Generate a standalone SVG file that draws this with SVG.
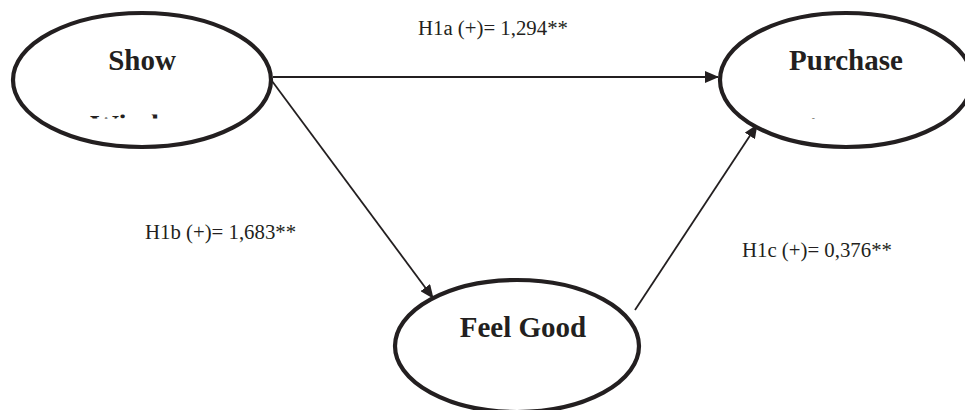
<svg xmlns="http://www.w3.org/2000/svg" width="965" height="410" viewBox="0 0 965 410">
<style>
.node{fill:#fff;stroke:#231f20;stroke-width:4.2}
.title{font-family:"Liberation Serif","Times New Roman",serif;font-weight:bold;font-size:29px;fill:#231f20;text-anchor:middle}
.lbl{font-family:"Liberation Serif","Times New Roman",serif;font-size:20.8px;fill:#231f20}
.edge{stroke:#231f20;stroke-width:1.8;fill:none}
</style>
<defs>
<marker id="ah" markerWidth="14" markerHeight="12" refX="13" refY="6" orient="auto" markerUnits="userSpaceOnUse">
<path d="M0,0 L14,6 L0,12 Z" fill="#231f20"/>
</marker>
<clipPath id="c1"><rect x="88" y="114.5" width="72" height="4"/></clipPath>
<clipPath id="c2"><rect x="806" y="114.5" width="16" height="4"/></clipPath>
</defs>
<g id="connectors">
<line class="edge" x1="273" y1="77" x2="718" y2="77" marker-end="url(#ah)"/>
<line class="edge" x1="272" y1="81" x2="433" y2="298" marker-end="url(#ah)"/>
<line class="edge" x1="635" y1="310" x2="757" y2="125" marker-end="url(#ah)"/>
</g>
<g id="node-show">
<ellipse class="node" cx="142" cy="80" rx="129" ry="67"/>
<text class="title" x="142" y="70">Show</text>
<text class="title" x="90" y="134.5" style="text-anchor:start" clip-path="url(#c1)">Window</text>
</g>
<g id="node-purchase">
<ellipse class="node" cx="846" cy="80" rx="126" ry="67"/>
<text class="title" x="846" y="70">Purchase</text>
<text class="title" x="838" y="134.5" clip-path="url(#c2)">Intention</text>
</g>
<g id="node-feelgood">
<ellipse class="node" cx="517" cy="346" rx="122" ry="66"/>
<text class="title" x="523" y="337">Feel Good</text>
</g>
<g id="labels">
<text class="lbl" x="418" y="35">H1a (+)= 1,294**</text>
<text class="lbl" x="145" y="239">H1b (+)= 1,683**</text>
<text class="lbl" x="742" y="257">H1c (+)= 0,376**</text>
</g>
</svg>
